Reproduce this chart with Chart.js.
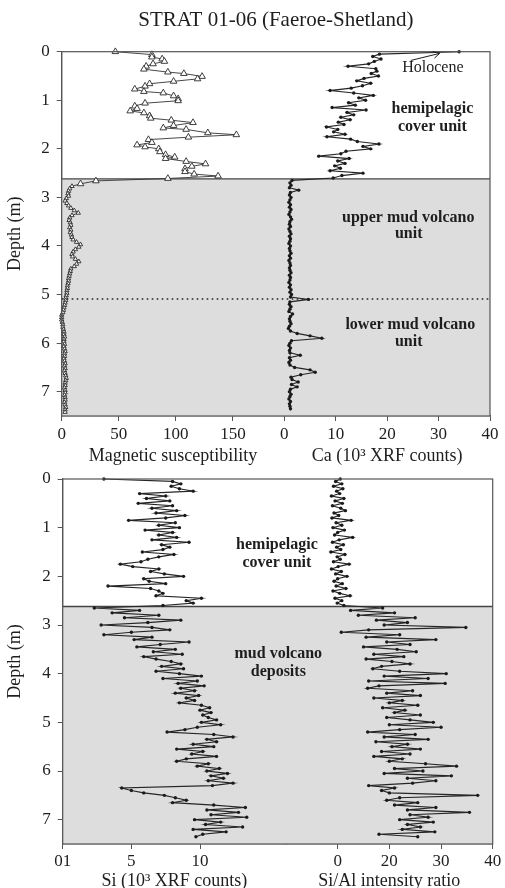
<!DOCTYPE html>
<html><head><meta charset="utf-8">
<script src="https://cdn.jsdelivr.net/npm/chart.js@4.4.1/dist/chart.umd.min.js"></script>
<style>
html,body{margin:0;padding:0;background:#fff;overflow:hidden;width:505px;height:888px}
#c1{position:absolute;left:0;top:0}
#c2{position:absolute;left:0;top:470px}
</style></head><body>
<canvas id="c1" width="505" height="470"></canvas>
<canvas id="c2" width="505" height="424"></canvas>
<script>
// ---------- DATA ----------
const chartTitle = 'STRAT 01-06 (Faeroe-Shetland)';

// magnetic susceptibility profile
const magDepth = [
 0,0.06,0.11,0.15,0.2,0.25,0.3,0.36,0.42,0.45,0.51,0.56,0.61,0.66,0.71,0.77,0.82,0.85,0.91,0.97,
 1.01,1.06,1.12,1.17,1.22,1.26,1.32,1.37,1.41,1.46,1.52,1.57,1.6,1.67,1.71,1.76,1.81,1.87,1.92,1.96,
 2,2.06,2.12,2.17,2.2,2.26,2.31,2.36,2.41,2.47,2.52,2.56,2.61,2.66,2.72,2.77,
 2.82,2.87,2.92,2.97,3.02,3.07,3.12,3.17,3.22,3.27,
 3.32,3.37,3.42,3.47,3.52,3.57,3.62,3.67,3.72,3.77,
 3.82,3.87,3.92,3.97,4.02,4.07,4.12,4.17,4.22,4.27,
 4.32,4.37,4.42,4.47,4.52,4.57,4.62,4.67,4.72,4.77,
 4.82,4.87,4.92,4.97,5.02,5.07,5.12,5.17,5.22,5.27,
 5.32,5.37,5.42,5.47,5.52,5.57,5.62,5.67,5.72,5.77,
 5.82,5.87,5.92,5.97,6.02,6.07,6.12,6.17,6.22,6.27,
 6.32,6.37,6.42,6.47,6.52,6.57,6.62,6.67,6.72,6.77,
 6.82,6.87,6.92,6.97,7.02,7.07,7.12,7.17,7.22,7.27,
 7.32,7.37,7.42
];
const magValue = [
 47,79,79,88,90,80,74,72,93,107,123,119,98,77,73,64,72,89,98,102,
 102,73,64,66,60,72,77,78,96,115,98,89,109,128,153,111,76,79,66,73,
 85,86,91,99,91,109,126,114,108,108,116,137,93,30,16.5,9,
 7,6,5.5,6,4,3,4.5,6,8,11,
 14.5,9,7,6.5,7.5,8,7,8,7.5,8.5,
 9,10,13,16.5,15,12,10,9,9.5,12,
 15,13,11,8,7.5,7,6.5,6,6,5.5,
 5,5,4.5,4.5,4,3.5,3.5,3,2.5,2,
 1.5,1,0,0,0,0.5,1,1,1.5,2,
 2,2.5,2,2,2.5,2,2.5,3,2.5,2.5,
 2,2.5,3,2.5,3,2.5,3,3.5,4,3.5,
 3,3,2.5,3,3,2.5,3,3,2.5,3,
 3.5,3,3
];

// XRF scan depths (shared by Ca, Si, Si/Al)
const xrfDepth = [
 0,0.05,0.1,0.15,0.2,0.25,0.3,0.35,0.4,0.45,
 0.5,0.55,0.6,0.65,0.7,0.75,0.8,0.85,0.9,0.95,
 1,1.05,1.1,1.15,1.2,1.25,1.3,1.35,1.4,1.45,
 1.5,1.55,1.6,1.65,1.7,1.75,1.8,1.85,1.9,1.95,
 2,2.05,2.1,2.15,2.2,2.25,2.3,2.35,2.4,2.45,
 2.5,2.55,2.6,2.65,2.7,2.75,2.8,2.85,2.9,2.95,
 3,3.05,3.1,3.15,3.2,3.25,3.3,3.35,3.4,3.45,
 3.5,3.55,3.6,3.65,3.7,3.75,3.8,3.85,3.9,3.95,
 4,4.05,4.1,4.15,4.2,4.25,4.3,4.35,4.4,4.45,
 4.5,4.55,4.6,4.65,4.7,4.75,4.8,4.85,4.9,4.95,
 5,5.05,5.1,5.15,5.2,5.25,5.3,5.35,5.4,5.45,
 5.5,5.55,5.6,5.65,5.7,5.75,5.8,5.85,5.9,5.95,
 6,6.05,6.1,6.15,6.2,6.25,6.3,6.35,6.4,6.45,
 6.5,6.55,6.6,6.65,6.7,6.75,6.8,6.85,6.9,6.95,
 7,7.05,7.1,7.15,7.2,7.25,7.3,7.35
];
const caValue = [
 34,18.5,17.2,18.8,17.5,16.4,12.4,17.8,18.0,16.9,
 18.3,15.5,14.1,16.8,15.2,13.0,8.9,13.5,17.3,14.5,
 15.8,12.5,13.8,9.3,15.9,12.2,13.5,11.0,12.8,10.5,
 11.6,8.2,10.4,9.6,11.8,8.3,12.9,14.2,18.4,15.3,
 16.8,12.0,11.0,6.7,12.6,10.4,11.8,9.8,10.9,8.9,
 15.3,11.2,9.5,1.5,1.1,1.3,1.0,2.8,1.2,1.0,
 1.3,1.1,0.9,1.2,1.0,1.3,1.1,0.9,1.2,1.4,
 1.1,1.0,1.2,0.9,1.1,1.3,1.0,1.2,1.1,0.9,
 1.2,1.0,1.1,1.3,1.0,1.2,0.9,1.1,1.2,1.0,
 1.1,1.3,1.0,1.2,1.1,0.9,1.2,1.0,1.3,1.1,
 1.4,1.2,4.7,1.1,1.0,1.3,1.1,0.9,1.6,1.2,
 1.0,1.1,1.3,1.0,0.8,1.2,2.5,5.0,7.3,1.4,
 1.1,0.9,1.2,1.0,1.1,3.1,1.0,1.2,0.9,1.1,
 2.0,5.0,6.0,3.2,1.3,1.5,2.7,1.4,2.5,1.2,
 1.0,1.3,1.1,0.9,1.2,1.0,1.1,1.2
];
const siValue = [
 3.0,8.0,8.6,7.9,8.5,9.5,5.6,7.5,6.1,7.8,
 5.5,8.0,6.5,8.3,6.8,8.9,7.5,4.8,8.2,7.0,
 8.5,6.0,8.0,7.0,8.3,6.5,9.2,7.2,7.8,7.3,
 5.8,8.1,7.0,6.2,5.7,4.2,5.1,7.0,6.4,7.4,
 8.8,5.9,6.3,7.5,3.3,6.4,7.0,7.3,6.8,10.1,
 9.0,9.5,7.3,2.3,5.6,3.6,7.0,4.5,8.6,6.2,
 2.8,6.5,7.8,5.0,3.0,6.5,5.2,9.2,7.1,5.4,
 8.2,6.6,8.7,5.9,6.8,7.9,8.6,7.2,8.8,6.8,
 8.5,10.1,7.3,9.8,8.4,10.3,8.6,9.6,8.2,9.9,
 9.0,9.6,8.5,10.1,10.7,10.0,10.8,10.2,10.6,11.2,
 10.1,11.5,9.8,8.9,7.6,11.0,12.4,10.5,11.2,9.5,
 11.0,8.3,10.2,9.4,11.2,9.0,8.3,10.6,9.8,11.4,
 10.5,12.0,10.8,11.7,10.6,12.4,10.9,4.3,5.0,5.9,
 7.4,8.2,9.0,8.0,11.0,13.3,10.5,12.8,10.8,13.4,
 9.6,11.5,10.4,13.1,9.5,11.9,10.2,9.7
];
const siAlValue = [
 10.5,9.6,10.8,9.2,11.0,9.8,10.4,8.8,11.2,9.5,
 10.9,9.0,10.6,11.5,9.3,10.2,8.9,12.6,9.7,10.8,
 9.1,11.3,10.0,9.4,12.9,10.3,9.0,11.1,9.8,10.6,
 8.7,11.4,9.9,10.5,9.2,12.2,10.1,8.8,10.7,9.6,
 11.8,10.0,9.3,10.9,9.7,11.6,9.1,10.4,12.4,9.5,
 10.8,9.9,11.2,18.7,12.5,21.0,14.0,25.0,17.5,23.5,
 19.0,34.8,16.0,10.7,22.0,15.5,29.0,19.5,24.0,15.0,
 21.5,25.2,17.0,22.8,15.5,20.5,24.0,18.5,16.8,22.0,
 31.0,19.0,27.5,16.0,30.8,18.0,15.8,24.5,19.5,26.0,
 17.0,22.5,20.0,25.5,18.7,23.0,21.0,26.0,19.5,24.0,
 28.5,20.0,30.0,22.0,15.8,25.0,19.0,27.5,17.4,23.5,
 20.5,26.0,18.5,24.0,17.0,22.5,20.0,27.0,33.0,21.0,
 26.5,19.0,32.0,23.5,29.0,24.5,16.0,21.0,18.5,20.0,
 37.1,22.0,19.5,25.5,21.0,29.0,23.5,35.5,24.0,27.5,
 22.0,28.5,23.5,26.0,22.5,28.8,18.0,25.5
];

// unit boundaries (depth, m)
const hemipelagicBase = 2.62;
const upperLowerBoundary = 5.09;

// tick values and their printed labels
const depthTicks = [0,1,2,3,4,5,6,7];
const magTicks = [0,50,100,150];
const magTickLabels = ['0','50','100','150'];
const caTicks = [0,10,20,30,40];
const caTickLabels = ['0','10','20','30','40'];
const siTicks = [0,5,10];
const siTickLabels = ['01','5','10'];
const ratioTicks = [10,20,30,40];
const ratioTickLabels = ['0','20','30','40'];

// ---------- STYLE / HELPERS ----------
const SERIF = "'Liberation Serif','Times New Roman',Times,serif";
const INK = '#1e1e1e';
const AXIS = '#555';
const pts = (vals, deps) => vals.map((v, i) => ({x: v, y: deps[i]}));

const panelPlugin = {
  id: 'panel',
  beforeDatasetsDraw(chart, args, o) {
    const {ctx, chartArea: a, scales: {y}} = chart;
    const top = y.getPixelForValue(o.shadeFrom);
    ctx.save();
    ctx.fillStyle = '#dddddd';
    ctx.fillRect(a.left, top, a.right - a.left, a.bottom - top);
    ctx.strokeStyle = '#444'; ctx.lineWidth = 1.3;
    ctx.beginPath(); ctx.moveTo(a.left, top); ctx.lineTo(a.right, top); ctx.stroke();
    if (o.dotted != null) {
      const yd = y.getPixelForValue(o.dotted);
      ctx.setLineDash([1.6, 3.4]); ctx.lineWidth = 1.6; ctx.strokeStyle = '#222';
      ctx.beginPath(); ctx.moveTo(a.left, yd); ctx.lineTo(a.right, yd); ctx.stroke();
    }
    ctx.restore();
  },
  afterDatasetsDraw(chart, args, o) {
    const {ctx, chartArea: a, scales} = chart;
    ctx.save();
    ctx.strokeStyle = AXIS; ctx.lineWidth = 1.2;
    ctx.strokeRect(a.left, a.top, a.right - a.left, a.bottom - a.top);
    ctx.fillStyle = INK; ctx.textAlign = 'center'; ctx.textBaseline = 'middle';
    for (const n of o.notes) {
      ctx.font = (n.bold ? 'bold ' : '') + '16px ' + SERIF;
      ctx.fillText(n.text, scales[n.axis].getPixelForValue(n.x), scales.y.getPixelForValue(n.d));
    }
    if (o.arrow) {
      const ar = o.arrow, xs = scales[ar.axis];
      const x0 = xs.getPixelForValue(ar.from[0]), y0 = scales.y.getPixelForValue(ar.from[1]);
      const x1 = xs.getPixelForValue(ar.to[0]), y1 = scales.y.getPixelForValue(ar.to[1]);
      const ang = Math.atan2(y1 - y0, x1 - x0);
      ctx.strokeStyle = INK; ctx.lineWidth = 1;
      ctx.beginPath(); ctx.moveTo(x0, y0); ctx.lineTo(x1, y1);
      ctx.moveTo(x1 - 7 * Math.cos(ang - 0.5), y1 - 7 * Math.sin(ang - 0.5));
      ctx.lineTo(x1, y1);
      ctx.lineTo(x1 - 7 * Math.cos(ang + 0.5), y1 - 7 * Math.sin(ang + 0.5));
      ctx.stroke();
    }
    ctx.restore();
  }
};

function yAxis(width) {
  return {
    type: 'linear', position: 'left', reverse: true, min: 0, max: 7.5,
    afterBuildTicks: s => { s.ticks = depthTicks.map(v => ({value: v})); },
    afterFit: s => { s.width = width; s.paddingTop = 0; s.paddingBottom = 0; },
    ticks: {color: INK, font: {family: SERIF, size: 17}, padding: 7, autoSkip: false},
    grid: {display: true, drawOnChartArea: false, drawTicks: true, tickLength: 5, color: AXIS},
    border: {display: true, color: AXIS, width: 1.2},
    title: {display: true, text: 'Depth (m)', color: INK, font: {family: SERIF, size: 18}, padding: {top: 4, bottom: 0}}
  };
}
function xAxis(stack, weight, min, max, tickVals, tickLabels, title, height, pad, titlePad) {
  return {
    type: 'linear', position: 'bottom', stack: stack, stackWeight: weight, min: min, max: max,
    afterBuildTicks: s => { s.ticks = tickVals.map(v => ({value: v})); },
    afterFit: s => { s.height = height; s.paddingLeft = 0; s.paddingRight = 0; },
    ticks: {color: INK, font: {family: SERIF, size: 17}, padding: pad, maxRotation: 0, autoSkip: false,
            callback: (v, i) => tickLabels[i]},
    grid: {display: true, drawOnChartArea: false, drawTicks: true, tickLength: 5, color: AXIS},
    border: {display: true, color: AXIS, width: 1.2},
    title: {display: true, text: title, color: INK, font: {family: SERIF, size: 18}, padding: {top: 0, bottom: titlePad}}
  };
}
const xrfStyle = {showLine: true, borderColor: '#262626', borderWidth: 1.15, pointRadius: 1.7,
  pointBackgroundColor: '#1a1a1a', pointBorderWidth: 0, tension: 0, clip: 5};

// ---------- TOP PANEL ----------
new Chart(document.getElementById('c1'), {
  type: 'scatter',
  data: {datasets: [
    {label: 'Magnetic susceptibility', data: pts(magValue, magDepth), xAxisID: 'xMag', yAxisID: 'y',
     showLine: true, borderColor: '#333', borderWidth: 0.9, pointStyle: 'triangle',
     pointRadius: c => (c.raw && c.raw.y > 2.75 ? 2.5 : 3.8),
     pointBackgroundColor: '#fff', pointBorderColor: '#2a2a2a', pointBorderWidth: 0.9, tension: 0, clip: 5},
    Object.assign({label: 'Ca', data: pts(caValue, xrfDepth), xAxisID: 'xCa', yAxisID: 'y'}, xrfStyle)
  ]},
  options: {
    responsive: false, animation: false, devicePixelRatio: 1,
    layout: {padding: {top: 0, left: 0, right: 15, bottom: 0}},
    plugins: {
      legend: {display: false}, tooltip: {enabled: false},
      title: {display: true, fullSize: false, text: chartTitle, color: INK,
              font: {family: SERIF, size: 21, weight: 'normal', lineHeight: 1.2}, padding: {top: 8, bottom: 18.5}},
      panel: {
        shadeFrom: hemipelagicBase, dotted: upperLowerBoundary,
        notes: [
          {axis: 'xCa', x: 28.9, d: 0.34, text: 'Holocene', bold: false},
          {axis: 'xCa', x: 28.8, d: 1.18, text: 'hemipelagic', bold: true},
          {axis: 'xCa', x: 28.8, d: 1.55, text: 'cover unit', bold: true},
          {axis: 'xCa', x: 24.1, d: 3.43, text: 'upper mud volcano', bold: true},
          {axis: 'xCa', x: 24.2, d: 3.76, text: 'unit', bold: true},
          {axis: 'xCa', x: 24.5, d: 5.63, text: 'lower mud volcano', bold: true},
          {axis: 'xCa', x: 24.2, d: 5.98, text: 'unit', bold: true}
        ],
        arrow: {axis: 'xCa', from: [24.6, 0.18], to: [30.2, 0.035]}
      }
    },
    scales: {
      xMag: xAxis('top', 222.6, 0, 195, magTicks, magTickLabels, 'Magnetic susceptibility', 54, 3, 3),
      xCa: xAxis('top', 205.7, 0, 40, caTicks, caTickLabels, 'Ca (10\u00B3 XRF counts)', 54, 3, 3),
      y: yAxis(61.7)
    }
  },
  plugins: [panelPlugin]
});

// ---------- BOTTOM PANEL ----------
new Chart(document.getElementById('c2'), {
  type: 'scatter',
  data: {datasets: [
    Object.assign({label: 'Si', data: pts(siValue, xrfDepth), xAxisID: 'xSi', yAxisID: 'y'}, xrfStyle),
    Object.assign({label: 'Si/Al', data: pts(siAlValue, xrfDepth), xAxisID: 'xRatio', yAxisID: 'y'}, xrfStyle)
  ]},
  options: {
    responsive: false, animation: false, devicePixelRatio: 1,
    layout: {padding: {top: 9, left: 0, right: 12.3, bottom: 0}},
    plugins: {
      legend: {display: false}, tooltip: {enabled: false},
      panel: {
        shadeFrom: hemipelagicBase, dotted: null,
        notes: [
          {axis: 'xSi', x: 15.6, d: 1.36, text: 'hemipelagic', bold: true},
          {axis: 'xSi', x: 15.6, d: 1.73, text: 'cover unit', bold: true},
          {axis: 'xSi', x: 15.7, d: 3.59, text: 'mud volcano', bold: true},
          {axis: 'xSi', x: 15.7, d: 3.96, text: 'deposits', bold: true}
        ]
      }
    },
    scales: {
      xSi: xAxis('bot', 223.3, 0, 16.26, siTicks, siTickLabels, 'Si (10\u00B3 XRF counts)', 50, 2.5, 1.5),
      xRatio: xAxis('bot', 206.7, 0, 40, ratioTicks, ratioTickLabels, 'Si/Al intensity ratio', 50, 2.5, 1.5),
      y: yAxis(62.7)
    }
  },
  plugins: [panelPlugin]
});
</script>
</body></html>
